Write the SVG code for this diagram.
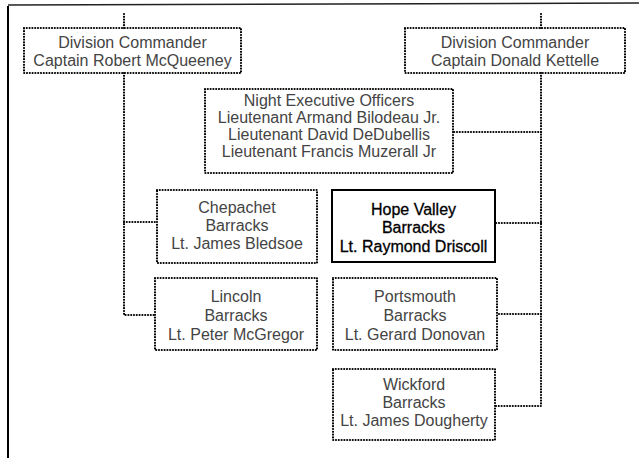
<svg xmlns="http://www.w3.org/2000/svg" width="639" height="458" viewBox="0 0 639 458">
  <style>
    .dot { fill: none; stroke: #000; stroke-width: 2.2; stroke-dasharray: 0 2.8; stroke-linecap: round; }
    .solid { fill: #fff; stroke: #000; stroke-width: 2; }
    .t { font-family: "Liberation Sans", Arial, sans-serif; font-size: 16px; fill: #444; text-anchor: middle; }
    .tb { font-family: "Liberation Sans", Arial, sans-serif; font-size: 16px; fill: #000; stroke: #000; stroke-width: 0.3; text-anchor: middle; }
    .frame { stroke: #000; stroke-width: 2; fill: none; }
  </style>
  <rect width="639" height="458" fill="#fff"/>

  <!-- page frame -->
  <g id="frame">
    <line class="frame" x1="8" y1="6" x2="8" y2="458"/>
    <line x1="8" y1="5" x2="639" y2="3" stroke="#222" stroke-width="1.5"/>
  </g>

  <!-- connectors -->
  <g id="connectors">
    <path class="dot" d="M124 14 V28"/>
    <path class="dot" d="M124 73 V315 H155"/>
    <path class="dot" d="M124 222 H157"/>
    <path class="dot" d="M541 14 V28"/>
    <path class="dot" d="M541 73 V406 H495"/>
    <path class="dot" d="M541 132 H453"/>
    <path class="dot" d="M541 223 H495"/>
    <path class="dot" d="M541 314 H497"/>
  </g>

  <g id="div-commander-left">
    <rect class="dot" x="24" y="28" width="217" height="45"/>
    <text class="t" x="132.5" y="48">Division Commander</text>
    <text class="t" x="132.5" y="66">Captain Robert McQueeney</text>
  </g>

  <g id="div-commander-right">
    <rect class="dot" x="405" y="28" width="220" height="45"/>
    <text class="t" x="515" y="48">Division Commander</text>
    <text class="t" x="515" y="66">Captain Donald Kettelle</text>
  </g>

  <g id="night-executive">
    <rect class="dot" x="205" y="89" width="248" height="84"/>
    <text class="t" x="329" y="106">Night Executive Officers</text>
    <text class="t" x="329" y="123">Lieutenant Armand Bilodeau Jr.</text>
    <text class="t" x="329" y="140">Lieutenant David DeDubellis</text>
    <text class="t" x="329" y="157">Lieutenant Francis Muzerall Jr</text>
  </g>

  <g id="chepachet">
    <rect class="dot" x="157" y="190" width="160" height="73"/>
    <text class="t" x="237" y="213">Chepachet</text>
    <text class="t" x="237" y="231">Barracks</text>
    <text class="t" x="237" y="249">Lt. James Bledsoe</text>
  </g>

  <g id="hope-valley">
    <rect class="solid" x="332" y="190" width="163" height="72"/>
    <text class="tb" x="413.5" y="215">Hope Valley</text>
    <text class="tb" x="413.5" y="233">Barracks</text>
    <text class="tb" x="413.5" y="252">Lt. Raymond Driscoll</text>
  </g>

  <g id="lincoln">
    <rect class="dot" x="155" y="278" width="162" height="72"/>
    <text class="t" x="236" y="302">Lincoln</text>
    <text class="t" x="236" y="321">Barracks</text>
    <text class="t" x="236" y="340">Lt. Peter McGregor</text>
  </g>

  <g id="portsmouth">
    <rect class="dot" x="333" y="278" width="164" height="72"/>
    <text class="t" x="415" y="302">Portsmouth</text>
    <text class="t" x="415" y="321">Barracks</text>
    <text class="t" x="415" y="340">Lt. Gerard Donovan</text>
  </g>

  <g id="wickford">
    <rect class="dot" x="333" y="369" width="162" height="71"/>
    <text class="t" x="414" y="390">Wickford</text>
    <text class="t" x="414" y="408">Barracks</text>
    <text class="t" x="414" y="426">Lt. James Dougherty</text>
  </g>
</svg>
